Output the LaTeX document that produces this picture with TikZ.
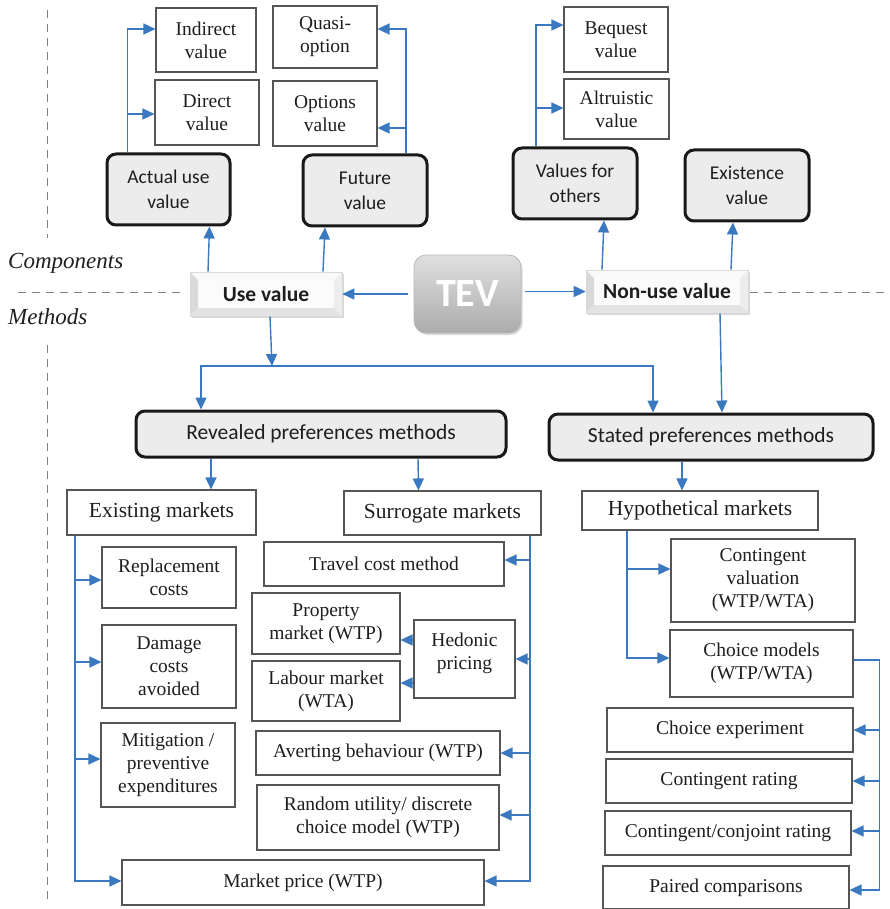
\documentclass[tikz,border=0pt]{standalone}
\usepackage{fontspec}
\setmainfont{Liberation Serif}
\newfontfamily\calibri{Carlito}
\usetikzlibrary{arrows.meta,shadows}
\definecolor{arrowblue}{RGB}{58,120,192}
\definecolor{boxline}{RGB}{85,85,85}
\definecolor{keyfill}{RGB}{236,236,236}
\definecolor{ink}{RGB}{30,30,30}
\tikzset{
  sz/.style 2 args={minimum width=#1pt, minimum height=#2pt},
  plainbox/.style={draw=boxline, line width=1.1pt, fill=white, inner sep=0pt,
    align=center, text=ink, font=\fontsize{19.5}{23}\selectfont},
  marketbox/.style={plainbox, font=\fontsize{21.5}{25}\selectfont},
  keybox/.style={draw=black!90, line width=3pt, rounded corners=9pt, fill=keyfill,
    inner sep=0pt, align=center, text=ink, font=\calibri\fontsize{19.5}{25}\selectfont},
  methodbox/.style={keybox, font=\calibri\fontsize{21.5}{25}\selectfont},
  bevelbox/.style={inner sep=0pt, text=ink, fill=gray!12, draw=gray!30, line width=0.6pt,
    font=\calibri\bfseries\fontsize{21.5}{25}\selectfont,
    drop shadow={opacity=0.3, shadow xshift=1.5pt, shadow yshift=-2pt},
    path picture={
      \fill[gray!3] ([shift={(8pt,-8pt)}]path picture bounding box.north west)
        rectangle ([shift={(-8pt,8pt)}]path picture bounding box.south east);
      \fill[gray!30] (path picture bounding box.north west)
        -- ([shift={(8pt,-8pt)}]path picture bounding box.north west)
        -- ([shift={(8pt,8pt)}]path picture bounding box.south west)
        -- (path picture bounding box.south west) -- cycle;
      \fill[gray!22] (path picture bounding box.south west)
        -- ([shift={(8pt,8pt)}]path picture bounding box.south west)
        -- ([shift={(-8pt,8pt)}]path picture bounding box.south east)
        -- (path picture bounding box.south east) -- cycle;
      \fill[gray!14] (path picture bounding box.north east)
        -- ([shift={(-8pt,-8pt)}]path picture bounding box.north east)
        -- ([shift={(-8pt,8pt)}]path picture bounding box.south east)
        -- (path picture bounding box.south east) -- cycle;
      \fill[gray!5] (path picture bounding box.north west)
        -- ([shift={(8pt,-8pt)}]path picture bounding box.north west)
        -- ([shift={(-8pt,-8pt)}]path picture bounding box.north east)
        -- (path picture bounding box.north east) -- cycle;
    }},
  tevbox/.style={rounded corners=12pt, top color=gray!25, bottom color=gray!65,
    draw=gray!55, line width=0.8pt, inner sep=0pt, text=white,
    font=\calibri\bfseries\fontsize{40}{40}\selectfont,
    drop shadow={opacity=0.3, shadow xshift=1.5pt, shadow yshift=-2pt}},
  arr/.style={draw=arrowblue, line width=1.4pt, -{Triangle[length=12pt,width=11pt]}},
  divider/.style={draw=gray, line width=1pt, dash pattern=on 8pt off 6pt},
  sidelabel/.style={anchor=west, inner sep=0pt, text=ink,
    font=\itshape\fontsize{23}{25}\selectfont},
}
\begin{document}
\begin{tikzpicture}[x=1pt,y=-1pt]
\useasboundingbox (0,0) rectangle (889,909);

% section dividers
\draw[divider] (47,10) -- (47,238);
\draw[divider] (47,345) -- (47,905);
\draw[divider] (18,292) -- (186,292);
\draw[divider] (750,292) -- (889,292);
\node[sidelabel] (complabel) at (8,263) {Components};
\node[sidelabel] (methlabel) at (8,317) {Methods};

% components
\node[plainbox, sz={100}{64}] (indirect) at (206,40) {Indirect\\value};
\node[plainbox, sz={104}{62}] (quasi) at (325,37) {Quasi-\\option};
\node[plainbox, sz={104}{65}] (direct) at (207,112.5) {Direct\\value};
\node[plainbox, sz={104}{65}] (options) at (325,113.5) {Options\\value};
\node[plainbox, sz={104}{65}] (bequest) at (616,39.5) {Bequest\\value};
\node[plainbox, sz={105}{60}] (altruistic) at (616.5,109) {Altruistic\\value};

\node[keybox, sz={123}{71}] (actual) at (168.5,189.5) {\rule{0pt}{14pt}Actual use\\value};
\node[keybox, sz={124}{71}] (future) at (365,190.5) {\rule{0pt}{14pt}Future\\value};
\node[keybox, sz={124}{71}] (others) at (575,183.5) {\rule{0pt}{14pt}Values for\\others};
\node[keybox, sz={124}{71}] (existence) at (747,185.5) {\rule{0pt}{14pt}Existence\\value};

\node[bevelbox, sz={152}{44}] (use) at (266,294) {Use value};
\node[bevelbox, sz={162}{43}] (nonuse) at (667,291.5) {Non-use value};
\node[tevbox, sz={107}{78}] (tev) at (467.5,294) {TEV};

% methods
\node[methodbox, sz={370}{46}] (revealed) at (321,434) {Revealed preferences methods};
\node[methodbox, sz={324}{46}] (stated) at (711,437) {Stated preferences methods};

\node[marketbox, sz={189}{45}] (existing) at (161.5,512.5) {Existing markets};
\node[marketbox, sz={197}{44}] (surrogate) at (442.5,513) {Surrogate markets};
\node[marketbox, sz={236}{39}] (hyp) at (700,510.5) {Hypothetical markets};

\node[plainbox, sz={134}{61}] (replacement) at (169,577.5) {Replacement\\costs};
\node[plainbox, sz={134}{83}] (damage) at (169,666.5) {Damage\\costs\\avoided};
\node[plainbox, sz={134}{84}] (mitigation) at (168,765) {Mitigation /\\preventive\\expenditures};
\node[plainbox, sz={362}{45}] (marketprice) at (303,882.5) {Market price (WTP)};

\node[plainbox, sz={240}{44}] (travel) at (384,564) {Travel cost method};
\node[plainbox, sz={148}{61}] (property) at (326,623.5) {Property\\market (WTP)};
\node[plainbox, sz={148}{60}] (labour) at (326,691) {Labour market\\(WTA)};
\node[plainbox, sz={101}{78}] (hedonic) at (464.5,659) {Hedonic\\pricing\\[-8pt]};
\node[plainbox, sz={244}{44}] (averting) at (378,753) {Averting behaviour (WTP)};
\node[plainbox, sz={242}{65}] (random) at (378,817.5) {Random utility/ discrete\\choice model (WTP)};

\node[plainbox, sz={184}{83}] (contval) at (763,580.5) {Contingent\\valuation\\(WTP/WTA)};
\node[plainbox, sz={183}{67}] (choicem) at (761.5,663.5) {Choice models\\(WTP/WTA)};
\node[plainbox, sz={246}{44}] (cexp) at (730,730) {Choice experiment};
\node[plainbox, sz={246}{44}] (crate) at (729,781) {Contingent rating};
\node[plainbox, sz={246}{44}] (cconj) at (728,833) {Contingent/conjoint rating};
\node[plainbox, sz={246}{43}] (paired) at (726,887.5) {Paired comparisons};

% TEV splits into use and non-use value
\draw[arr] ([xshift=-6]tev.west) -- (use.east);
\draw[arr] ([xshift=4]tev.east |- nonuse.west) -- (nonuse.west);

\draw[arr] ([xshift=-58]use.north) -- ([xshift=41]actual.south);
\draw[arr] ([xshift=57]use.north) -- ([xshift=-40]future.south);
\draw[arr] ([xshift=-65]nonuse.north) -- ([xshift=29]others.south);
\draw[arr] ([xshift=64]nonuse.north) -- ([xshift=-14]existence.south);

% component branches
\draw[arr] ([xshift=-41]actual.north) |- ([yshift=11]indirect.west);
\draw[arr] ([xshift=-41]actual.north) |- ([yshift=-1.5]direct.west);
\draw[arr] ([xshift=41]future.north) |- ([yshift=8]quasi.east);
\draw[arr] ([xshift=41]future.north) |- ([yshift=-14.5]options.east);
\draw[arr] ([xshift=-39]others.north) |- ([yshift=14.5]bequest.west);
\draw[arr] ([xshift=-39]others.north) |- ([yshift=1]altruistic.west);

% value types to method families
\coordinate (split) at (272,366);
\draw[arr] ([xshift=4]use.south) -- (split);
\draw[arr] (split) -| ([xshift=-120]revealed.north);
\draw[arr] (split) -| ([xshift=-58]stated.north);
\draw[arr] ([xshift=53]nonuse.south) -- ([xshift=11]stated.north);

\draw[arr] ([xshift=-110]revealed.south) -- ([xshift=49.5]existing.north);
\draw[arr] ([xshift=97]revealed.south) -- ([xshift=-24]surrogate.north);
\draw[arr] ([xshift=-29]stated.south) -- ([xshift=-18]hyp.north);

% existing markets
\draw[arr] ([xshift=-86.5]existing.south) |- ([yshift=-2.5]replacement.west);
\draw[arr] ([xshift=-86.5]existing.south) |- ([yshift=4.5]damage.west);
\draw[arr] ([xshift=-86.5]existing.south) |- ([yshift=6]mitigation.west);
\draw[arr] ([xshift=-86.5]existing.south) |- ([yshift=1.5]marketprice.west);

% surrogate markets
\draw[arr] ([xshift=87.5]surrogate.south) |- ([yshift=4]travel.east);
\draw[arr] ([xshift=87.5]surrogate.south) |- (hedonic.east);
\draw[arr] ([xshift=87.5]surrogate.south) |- (averting.east);
\draw[arr] ([xshift=87.5]surrogate.south) |- ([yshift=2.5]random.east);
\draw[arr] ([xshift=87.5]surrogate.south) |- ([yshift=1.5]marketprice.east);
\draw[arr] ([yshift=19]hedonic.west) -- ([yshift=-16.5]property.east);
\draw[arr] ([yshift=-24]hedonic.west) -- ([yshift=8]labour.east);

% hypothetical markets
\draw[arr] ([xshift=-73]hyp.south) |- ([yshift=11.5]contval.west);
\draw[arr] ([xshift=-73]hyp.south) |- ([yshift=5.5]choicem.west);

% choice model variants
\draw[arr] ([yshift=3.5]choicem.east) -- ++(26,0) |- (cexp.east);
\draw[arr] ([yshift=3.5]choicem.east) -- ++(26,0) |- (crate.east);
\draw[arr] ([yshift=3.5]choicem.east) -- ++(26,0) |- ([yshift=2]cconj.east);
\draw[arr] ([yshift=3.5]choicem.east) -- ++(26,0) |- ([yshift=-2.5]paired.east);
\end{tikzpicture}
\end{document}
